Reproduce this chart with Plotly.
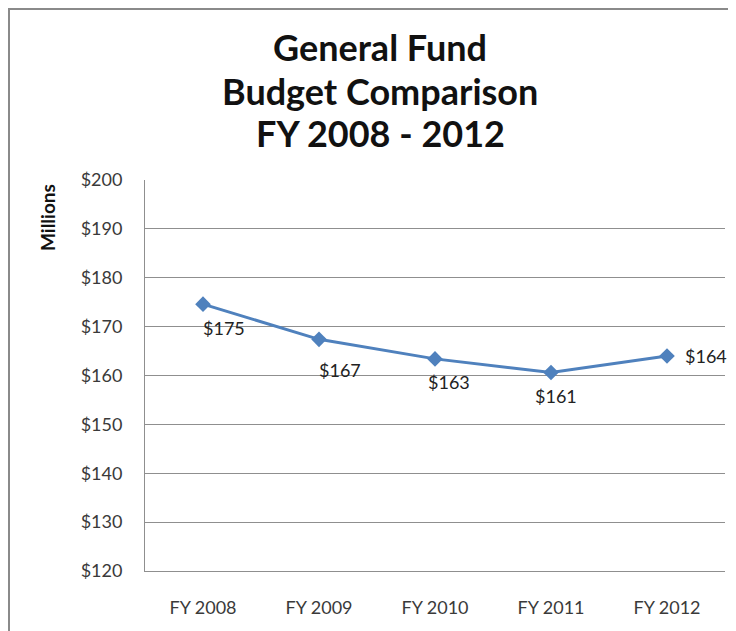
import plotly.graph_objects as go

# ---- data ----
categories = ["FY 2008", "FY 2009", "FY 2010", "FY 2011", "FY 2012"]
budget_millions = [174.6, 167.4, 163.4, 160.6, 164.0]
y_tick_values = [120, 130, 140, 150, 160, 170, 180, 190, 200]
y_tick_labels = ["$120", "$130", "$140", "$150", "$160", "$170", "$180", "$190", "$200"]
title_lines = ["General Fund", "Budget Comparison", "FY 2008 - 2012"]
y_axis_title = "Millions"

# ---- style ----
FONT = "Lato"
LINE_COLOR = "#4F81BD"
GRID = "#8f8f8f"
TEXT = "#3a3a3a"
# data-label offsets in px (xshift, yshift) per point
label_offsets = [(21, -24), (21, -31), (14, -23), (5, -23), (39, 0)]
# page body has an 8px margin: figure coordinates = screen coordinates - 8
OFF = 8
W, H = 728, 623
L, T = 145 - OFF, 180 - OFF
R = W - (725 - OFF)
B = H - (571 - OFF)
pw, ph = W - L - R, H - T - B


def px_to_paper_x(px):
    return (px - OFF - L) / pw


def px_to_paper_y(py):
    return (H - B - (py - OFF)) / ph


fig = go.Figure()
fig.add_trace(go.Scatter(
    x=categories, y=budget_millions, mode="lines+markers",
    line=dict(color=LINE_COLOR, width=3),
    marker=dict(symbol="diamond", size=12, color=LINE_COLOR),
    showlegend=False, hoverinfo="x+y", cliponaxis=False,
))

annotations = []
for cat, val, (dx, dy) in zip(categories, budget_millions, label_offsets):
    annotations.append(dict(
        x=cat, y=val, xref="x", yref="y", text=f"${val:.0f}", showarrow=False,
        xshift=dx, yshift=dy, font=dict(family=FONT, size=18, color="#222222"),
        xanchor="center", yanchor="middle",
    ))

title_y_px = [47, 91, 133]
for line, ty in zip(title_lines, title_y_px):
    annotations.append(dict(
        x=px_to_paper_x(380), y=px_to_paper_y(ty), xref="paper", yref="paper",
        text=f"<b>{line}</b>", showarrow=False,
        xanchor="center", yanchor="middle", align="center",
        font=dict(family=FONT, size=36, color="#111111"),
    ))
annotations.append(dict(
    x=px_to_paper_x(47), y=px_to_paper_y(218), xref="paper", yref="paper",
    text=f"<b>{y_axis_title}</b>", showarrow=False, textangle=-90,
    xanchor="center", yanchor="middle",
    font=dict(family=FONT, size=19, color="#111111"),
))

fig.update_layout(
    width=W, height=H,
    margin=dict(l=L, r=R, t=T, b=B, autoexpand=False),
    paper_bgcolor="white", plot_bgcolor="white",
    annotations=annotations,
    shapes=[dict(
        type="rect", xref="paper", yref="paper",
        x0=px_to_paper_x(9), x1=px_to_paper_x(900),
        y0=px_to_paper_y(800), y1=px_to_paper_y(9),
        line=dict(color="#8a8a8a", width=2), layer="below",
    )],
)
fig.update_xaxes(
    type="category", range=[-0.5, 4.5], showgrid=False,
    showline=True, linecolor=GRID, linewidth=1, ticks="",
    tickfont=dict(family=FONT, size=18, color=TEXT), ticklabelstandoff=20,
)
fig.update_yaxes(
    range=[120, 200], tickvals=y_tick_values, ticktext=y_tick_labels,
    showgrid=True, gridcolor=GRID, gridwidth=1, zeroline=False,
    showline=True, linecolor=GRID, linewidth=1, ticks="",
    tickfont=dict(family=FONT, size=18, color=TEXT), ticklabelstandoff=18,
)

fig.write_html("out.html")
